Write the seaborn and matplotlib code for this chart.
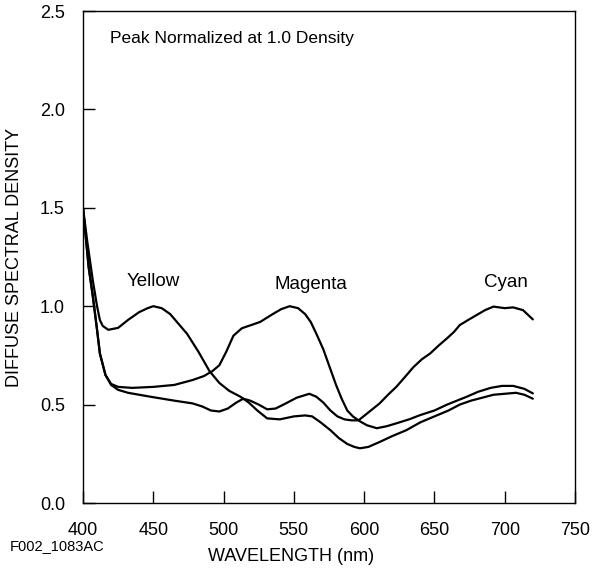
import numpy as np
import pandas as pd
import matplotlib
matplotlib.use('Agg')
import matplotlib.pyplot as plt
import seaborn as sns

# wavelength (nm) / density
yellow_wl = [400, 403, 407, 410, 412, 414, 418, 425, 432, 440, 446, 450, 456, 462, 468, 474,
             482, 490, 497, 504, 512, 518, 524, 531, 540, 550, 558, 563, 569, 576, 582, 588,
             593, 597, 603, 611, 620, 630, 640, 650, 660, 668, 676, 684, 692, 700, 708, 714, 720]
yellow_d = [1.50, 1.33, 1.13, 1.00, 0.93, 0.90, 0.88, 0.89, 0.93, 0.97, 0.99, 1.00, 0.99, 0.96, 0.91, 0.86,
            0.77, 0.67, 0.61, 0.57, 0.54, 0.51, 0.47, 0.43, 0.425, 0.44, 0.445, 0.44, 0.41, 0.37, 0.33, 0.30,
            0.285, 0.278, 0.285, 0.31, 0.34, 0.37, 0.41, 0.44, 0.47, 0.50, 0.52, 0.535, 0.55, 0.555, 0.56, 0.55, 0.53]

magenta_wl = [400, 404, 407, 410, 412, 416, 420, 425, 435, 450, 465, 478, 486, 492, 497, 502, 507,
              513, 520, 526, 535, 541, 547, 553, 558, 562, 566, 571, 576, 580, 584, 588, 592, 597, 602,
              609, 616, 623, 632, 640, 650, 659, 666, 673, 681, 690, 698, 706, 714, 720]
magenta_d = [1.50, 1.20, 1.05, 0.88, 0.76, 0.65, 0.605, 0.59, 0.585, 0.59, 0.60, 0.625, 0.645, 0.67, 0.70, 0.77, 0.85,
             0.888, 0.905, 0.92, 0.96, 0.985, 1.00, 0.99, 0.96, 0.92, 0.86, 0.78, 0.68, 0.60, 0.53, 0.47, 0.44, 0.415, 0.395,
             0.38, 0.39, 0.405, 0.425, 0.447, 0.47, 0.50, 0.52, 0.54, 0.565, 0.585, 0.595, 0.595, 0.58, 0.557]

cyan_wl = [400, 404, 407, 410, 412, 416, 420, 425, 432, 448, 465, 478, 485, 491, 497, 503, 509, 514,
           519, 525, 531, 537, 544, 552, 561, 566, 571, 576, 581, 586, 591, 596, 603, 611, 617, 623,
           629, 635, 641, 647, 653, 659, 664, 668, 674, 680, 686, 692, 700, 706, 713, 720]
cyan_d = [1.50, 1.20, 1.05, 0.88, 0.76, 0.65, 0.60, 0.575, 0.56, 0.54, 0.52, 0.506, 0.49, 0.47, 0.465, 0.48, 0.51, 0.53,
          0.52, 0.50, 0.476, 0.48, 0.505, 0.535, 0.555, 0.54, 0.51, 0.47, 0.44, 0.425, 0.42, 0.42, 0.46, 0.506, 0.55, 0.591,
          0.64, 0.69, 0.73, 0.76, 0.80, 0.837, 0.87, 0.904, 0.93, 0.955, 0.98, 0.998, 0.99, 0.994, 0.98, 0.933]

dye_names = ['Yellow', 'Magenta', 'Cyan']
label_pos = {'Yellow': (450, 1.123), 'Magenta': (562.5, 1.108), 'Cyan': (700.8, 1.12)}

x_ticks = [400, 450, 500, 550, 600, 650, 700, 750]
y_ticks = [0.0, 0.5, 1.0, 1.5, 2.0, 2.5]


def build_frame():
    parts = []
    for name, wl, d in zip(dye_names, [yellow_wl, magenta_wl, cyan_wl], [yellow_d, magenta_d, cyan_d]):
        parts.append(pd.DataFrame({'wavelength': wl, 'density': d, 'dye': name}))
    return pd.concat(parts, ignore_index=True)


def main():
    sns.set_style('ticks')
    plt.rcParams.update({
        'font.family': ['Liberation Sans', 'DejaVu Sans'],
        'text.color': 'black',
        'axes.labelcolor': 'black',
        'xtick.direction': 'in',
        'ytick.direction': 'in',
        'xtick.major.size': 8.6,
        'ytick.major.size': 8.6,
        'xtick.major.width': 1.0,
        'ytick.major.width': 1.0,
        'xtick.color': 'black',
        'ytick.color': 'black',
    })

    df = build_frame()

    fig = plt.figure(figsize=(5.92, 5.75), dpi=100)
    ax = fig.add_axes([83 / 592, 72 / 575, 492 / 592, 492 / 575])

    sns.lineplot(data=df, x='wavelength', y='density', hue='dye', units='dye', estimator=None,
                 sort=False, palette=['black'] * 3, linewidth=1.6, legend=False, ax=ax)

    ax.set_xlim(400, 750)
    ax.set_ylim(0, 2.5)
    ax.set_xticks(x_ticks)
    ax.set_yticks(y_ticks)
    ax.set_xticklabels([str(v) for v in x_ticks])
    ax.set_yticklabels([f'{v:.1f}' for v in y_ticks])
    ax.tick_params(axis='x', pad=14, labelsize=13)
    ax.tick_params(axis='y', pad=13, labelsize=13)
    for s in ax.spines.values():
        s.set_color('black')
        s.set_linewidth(1.0)

    ax.set_xlabel('WAVELENGTH (nm)', fontsize=13)
    ax.set_ylabel('DIFFUSE SPECTRAL DENSITY', fontsize=13)
    ax.xaxis.set_label_coords(0.423, -0.0915)
    ax.yaxis.set_label_coords(-0.122, 0.5)

    for name in dye_names:
        x, y = label_pos[name]
        ax.text(x, y, name, ha='center', va='center', fontsize=13.5)
    ax.text(419.2, 2.36, 'Peak Normalized at 1.0 Density', ha='left', va='center', fontsize=12.5)

    fig.text(10 / 592, 1 - 546 / 575, 'F002_1083AC', ha='left', va='center', fontsize=10.5)

    fig.savefig('out.png', dpi=100)


if __name__ == '__main__':
    main()
